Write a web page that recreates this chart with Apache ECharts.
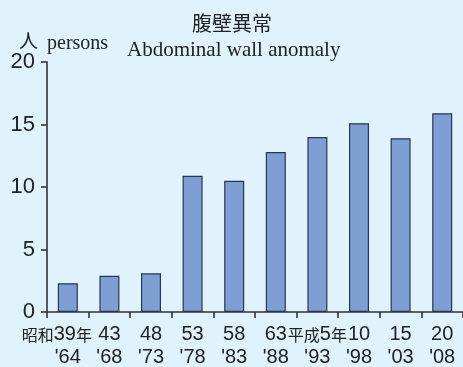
<!DOCTYPE html>
<html><head><meta charset="utf-8">
<style>html,body{margin:0;padding:0;background:#e0f2fc;}#c{width:463px;height:367px;}</style>
<script src="https://cdn.jsdelivr.net/npm/echarts@6/dist/echarts.min.js"></script>
</head><body><div id="c"></div>
<script>
const eraLabels = ['昭和39年','43','48','53','58','63','平成5年','10','15','20'];
const yearLabels = ["'64","'68","'73","'78","'83","'88","'93","'98","'03","'08"];
const values = [2.3, 2.9, 3.1, 10.9, 10.5, 12.8, 14.0, 15.1, 13.9, 15.9];
const yTicks = [0, 5, 10, 15, 20];

const sansF = "'Liberation Sans',Arial,sans-serif";
const cjkF = "'Noto Sans CJK JP',sans-serif";
function richLine(s, extraPad) {
  const parts = s.match(/[\u3000-\u9fff]+|[^\u3000-\u9fff]+/g) || [];
  return parts.map((p, k) => {
    const isCjk = /[\u3000-\u9fff]/.test(p);
    let tag = isCjk ? 'c' : 'd';
    if (extraPad && k === parts.length - 1) tag += 'p';
    return '{' + tag + '|' + p + '}';
  }).join('');
}
const chart = echarts.init(document.getElementById('c'));
chart.setOption({
  backgroundColor: '#e0f2fc',
  animation: false,
  grid: {left: 47, right: 0, top: 62, bottom: 55, containLabel: false, outerBoundsMode: 'none'},
  xAxis: {
    type: 'category',
    data: eraLabels.map((e, i) => i),
    axisLine: {lineStyle: {color: '#333', width: 1.6}},
    axisTick: {show: true, length: 6, alignWithLabel: false, lineStyle: {color: '#333', width: 1.6}},
    axisLabel: {
      interval: 0, margin: 11,
      formatter: (v) => {
        const i = +v;
        return richLine(eraLabels[i], i === 0) + '\n' + richLine(yearLabels[i], false);
      },
      rich: {
        c: {fontFamily: cjkF, fontSize: 16, color: '#222', lineHeight: 23},
        cp: {fontFamily: cjkF, fontSize: 16, color: '#222', lineHeight: 23, padding: [0, 22, 0, 0]},
        d: {fontFamily: sansF, fontSize: 20, color: '#222', lineHeight: 23},
        dp: {fontFamily: sansF, fontSize: 20, color: '#222', lineHeight: 23, padding: [0, 22, 0, 0]}
      }
    }
  },
  yAxis: {
    type: 'value', min: 0, max: 20, interval: 5,
    axisLine: {show: true, lineStyle: {color: '#333', width: 1.6}},
    axisTick: {show: true, length: 6, lineStyle: {color: '#333', width: 1.6}},
    splitLine: {show: false},
    axisLabel: {
      margin: 12, fontSize: 22, color: '#222',
      fontFamily: sansF,
      formatter: (v) => yTicks.includes(v) ? String(v) : ''
    }
  },
  series: [{
    type: 'bar', data: values, barWidth: 20,
    itemStyle: {color: '#7f9fd4', borderColor: '#2a3550', borderWidth: 1.2}
  }],
  graphic: [
    {type: 'text', left: 192, top: 13, style: {text: '腹壁異常', font: "20px 'Noto Sans CJK JP'", fill: '#222'}},
    {type: 'text', left: 127, top: 40, style: {text: 'Abdominal wall anomaly', font: "21px 'Liberation Serif','Times New Roman',serif", fill: '#222'}},
    {type: 'text', left: 19, top: 31, style: {text: '人', font: "19px 'Noto Sans CJK JP'", fill: '#222'}},
    {type: 'text', left: 47, top: 34, style: {text: 'persons', font: "20px 'Liberation Serif','Times New Roman',serif", fill: '#222'}}
  ]
});
</script></body></html>
